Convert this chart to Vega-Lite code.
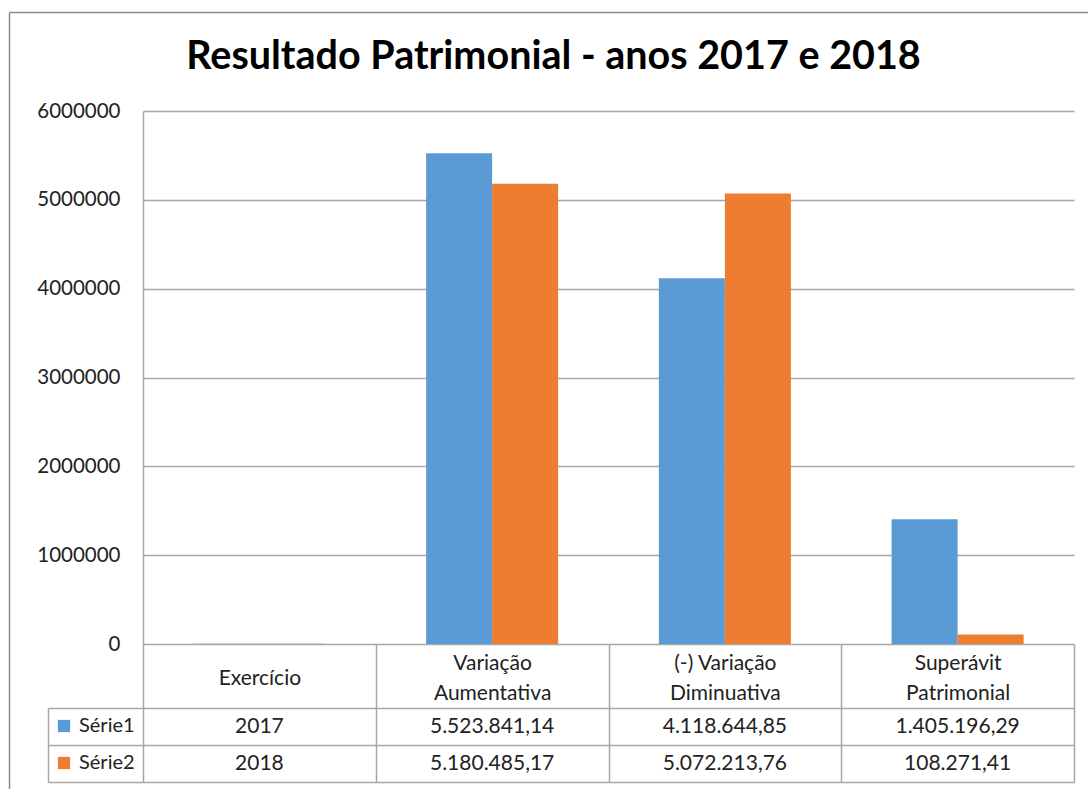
{
  "$schema": "https://vega.github.io/schema/vega-lite/v6.json",
  "width": 931,
  "height": 671,
  "autosize": {"type": "none"},
  "padding": {"left": 143, "top": 111, "right": 14, "bottom": 7},
  "background": "white",
  "config": {
    "view": {"stroke": null},
    "locale": {"number": {"decimal": ",", "thousands": ".", "grouping": [3], "currency": ["R$", ""]}},
    "font": "Lato"
  },
  "title": {
    "text": "Resultado Patrimonial - anos 2017 e 2018",
    "font": "Lato",
    "fontSize": 39.5,
    "fontWeight": "bold",
    "color": "#000000",
    "anchor": "middle",
    "frame": "group",
    "baseline": "alphabetic",
    "dx": -55,
    "offset": -99
  },
  "data": {
    "values": [
      {"categoria": "Exercício", "serie": "Série1", "valor": 2017},
      {"categoria": "Exercício", "serie": "Série2", "valor": 2018},
      {"categoria": "Variação Aumentativa", "serie": "Série1", "valor": 5523841.14},
      {"categoria": "Variação Aumentativa", "serie": "Série2", "valor": 5180485.17},
      {"categoria": "(-) Variação Diminuativa", "serie": "Série1", "valor": 4118644.85},
      {"categoria": "(-) Variação Diminuativa", "serie": "Série2", "valor": 5072213.76},
      {"categoria": "Superávit Patrimonial", "serie": "Série1", "valor": 1405196.29},
      {"categoria": "Superávit Patrimonial", "serie": "Série2", "valor": 108271.41}
    ]
  },
  "resolve": {"scale": {"x": "independent", "y": "independent"}, "axis": {"x": "independent", "y": "independent"}},
  "layer": [
    {
      "mark": {"type": "bar"},
      "encoding": {
        "x": {
          "field": "categoria",
          "type": "nominal",
          "sort": ["Exercício", "Variação Aumentativa", "(-) Variação Diminuativa", "Superávit Patrimonial"],
          "scale": {"paddingInner": 0, "paddingOuter": 0},
          "axis": {
            "orient": "bottom",
            "offset": -138,
            "title": null,
            "domain": false,
            "grid": false,
            "ticks": true,
            "tickBand": "extent",
            "tickSize": 138,
            "tickColor": "#a6a6a6",
            "tickWidth": 1.5,
            "labelAngle": 0,
            "labelFont": "Lato",
            "labelFontSize": 21,
            "labelColor": "#222222",
            "labelBaseline": "middle",
            "labelLineHeight": 30,
            "labelPadding": {"condition": {"test": "datum.label == 'Exercício'", "value": -104}, "value": -119},
            "labelExpr": "datum.label == '(-) Variação Diminuativa' ? ['(-) Variação', 'Diminuativa'] : split(datum.label, ' ')"
          }
        },
        "xOffset": {
          "field": "serie",
          "type": "nominal",
          "scale": {"paddingInner": 0, "paddingOuter": 0.763}
        },
        "y": {
          "field": "valor",
          "type": "quantitative",
          "scale": {"domain": [0, 6000000], "range": [533, 0], "nice": false, "zero": true},
          "axis": {
            "values": [0, 1000000, 2000000, 3000000, 4000000, 5000000, 6000000],
            "format": "d",
            "title": null,
            "grid": true,
            "gridColor": "#a6a6a6",
            "gridWidth": 1.5,
            "domain": true,
            "domainColor": "#a6a6a6",
            "domainWidth": 1.5,
            "ticks": false,
            "labelPadding": 23,
            "labelFont": "Lato",
            "labelFontSize": 20.5,
            "labelColor": "#222222"
          }
        },
        "color": {
          "field": "serie",
          "type": "nominal",
          "scale": {"domain": ["Série1", "Série2"], "range": ["#5B9BD5", "#ED7D31"]},
          "legend": {
            "orient": "none",
            "legendX": -89,
            "legendY": 605,
            "title": null,
            "padding": 0,
            "symbolType": "square",
            "symbolSize": 150,
            "symbolStrokeWidth": 0,
            "symbolOpacity": 1,
            "labelFont": "Lato",
            "labelFontSize": 20,
            "labelColor": "#222222",
            "labelOffset": 5,
            "rowPadding": 17
          }
        }
      }
    },
    {
      "mark": {"type": "text", "font": "Lato", "fontSize": 21, "color": "#222222"},
      "encoding": {
        "x": {
          "field": "categoria",
          "type": "nominal",
          "sort": ["Exercício", "Variação Aumentativa", "(-) Variação Diminuativa", "Superávit Patrimonial"],
          "scale": {"paddingInner": 0, "paddingOuter": 0},
          "axis": null
        },
        "y": {
          "field": "serie",
          "type": "nominal",
          "scale": {"type": "band", "domain": ["Série1", "Série2"], "range": [597, 671], "paddingInner": 0, "paddingOuter": 0},
          "axis": {
            "orient": "left",
            "offset": 95,
            "title": null,
            "labels": false,
            "tickBand": "extent",
            "ticks": true,
            "tickSize": -95,
            "tickColor": "#a6a6a6",
            "tickWidth": 1.5,
            "grid": true,
            "gridColor": "#a6a6a6",
            "gridWidth": 1.5,
            "domain": true,
            "domainColor": "#a6a6a6",
            "domainWidth": 1.5
          }
        },
        "text": {
          "condition": {"test": "datum.categoria === 'Exercício'", "field": "valor", "type": "quantitative", "format": "d"},
          "field": "valor",
          "type": "quantitative",
          "format": ",.2f"
        }
      }
    },
    {
      "mark": {"type": "point", "opacity": 0},
      "encoding": {
        "x": {
          "datum": 0,
          "type": "quantitative",
          "scale": {"domain": [0, 1], "range": [-134, 960]},
          "axis": {"orient": "top", "offset": 99, "title": null, "labels": false, "ticks": false, "grid": false, "domain": true, "domainColor": "#8c8c8c", "domainWidth": 1.5}
        },
        "y": {
          "datum": 0,
          "type": "quantitative",
          "scale": {"domain": [0, 1], "range": [-99, 700]},
          "axis": {"orient": "left", "offset": 134, "title": null, "labels": false, "ticks": false, "grid": false, "domain": true, "domainColor": "#8c8c8c", "domainWidth": 1.5}
        }
      }
    }
  ]
}
